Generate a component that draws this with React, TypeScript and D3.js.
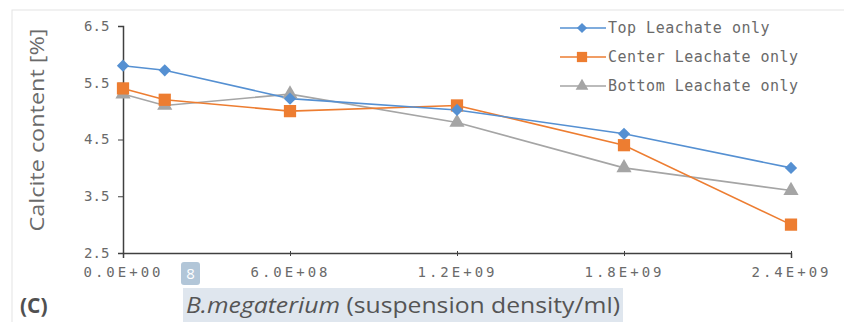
import React, { useRef, useEffect } from 'react';
import * as d3 from 'd3';

const densities = [0, 1.5e8, 6e8, 1.2e9, 1.8e9, 2.4e9];
const topLeachate = [5.8, 5.72, 5.22, 5.02, 4.6, 4.0];
const centerLeachate = [5.4, 5.2, 5.0, 5.1, 4.4, 3.0];
const bottomLeachate = [5.3, 5.1, 5.3, 4.8, 4.0, 3.6];
const seriesNames = ['Top Leachate only', 'Center Leachate only', 'Bottom Leachate only'];
const xTicks = [0, 6e8, 1.2e9, 1.8e9, 2.4e9];
const xTickLabels = ['0.0E+00', '6.0E+08', '1.2E+09', '1.8E+09', '2.4E+09'];
const yTicks = [2.5, 3.5, 4.5, 5.5, 6.5];

const colors = ['#5590d2', '#ed7d31', '#a5a5a5'];
const shapes = [d3.symbolSquare, d3.symbolSquare, d3.symbolTriangle];
const sizes = [75, 150, 100];
const rotations = [45, 0, 0];

const App = () => {
  const svgRef = useRef(null);
  const width = 844;
  const height = 322;

  useEffect(() => {
    const svg = d3.select(svgRef.current);
    svg.selectAll('*').remove();

    const x = d3.scaleLinear().domain([0, 2.4e9]).range([123, 791]);
    const y = d3.scaleLinear().domain([2.5, 6.5]).range([253, 26]);

    // outer frame
    svg.append('rect')
      .attr('x', 12).attr('y', 10).attr('width', 840).attr('height', 330)
      .attr('fill', 'white').attr('stroke', '#e3e3e3');

    const xAxis = d3.axisBottom(x).tickValues(xTicks).tickSize(5)
      .tickFormat((d, i) => xTickLabels[i]);
    const xg = svg.append('g').attr('transform', `translate(0,${y(2.5)})`).call(xAxis);
    xg.select('.domain').attr('stroke', '#404040').attr('stroke-width', 1.5);
    xg.selectAll('line').attr('stroke', '#404040').attr('transform', 'translate(0,-2)');
    xg.selectAll('text')
      .attr('fill', '#6a6a6a').attr('font-size', 14).attr('y', 14).attr('dy', '0.71em')
      .attr('font-family', 'DejaVu Sans Mono').attr('letter-spacing', '3');

    const yAxis = d3.axisLeft(y).tickValues(yTicks).tickSize(5).tickFormat(d3.format('.1f'));
    const yg = svg.append('g').attr('transform', `translate(${x(0)},0)`).call(yAxis);
    yg.select('.domain').attr('stroke', '#404040').attr('stroke-width', 1.5);
    yg.selectAll('line').attr('stroke', '#404040');
    yg.selectAll('text')
      .attr('fill', '#6a6a6a').attr('font-size', 14).attr('dx', '-0.4em')
      .attr('font-family', 'DejaVu Sans Mono');

    const all = [topLeachate, centerLeachate, bottomLeachate];
    const line = d3.line<number>().x((d, i) => x(densities[i])).y((d) => y(d));

    [2, 1, 0].forEach((s) => {
      svg.append('path')
        .attr('d', line(all[s]))
        .attr('fill', 'none').attr('stroke', colors[s]).attr('stroke-width', 1.6);
    });
    [2, 1, 0].forEach((s) => {
      svg.append('g').selectAll('path')
        .data(all[s]).enter().append('path')
        .attr('d', d3.symbol().type(shapes[s]).size(sizes[s])())
        .attr('transform', (d, i) => `translate(${x(densities[i])},${y(d)}) rotate(${rotations[s]})`)
        .attr('fill', colors[s]);
    });

    // legend
    const lg = svg.append('g').attr('transform', 'translate(560,28)');
    seriesNames.forEach((name, s) => {
      const row = lg.append('g').attr('transform', `translate(0,${s * 29})`);
      row.append('line').attr('x1', 0).attr('x2', 46).attr('y1', 0).attr('y2', 0)
        .attr('stroke', colors[s]).attr('stroke-width', 1.6);
      row.append('path').attr('d', d3.symbol().type(shapes[s]).size(sizes[s] * 0.7)())
        .attr('transform', `translate(22,0) rotate(${rotations[s]})`).attr('fill', colors[s]);
      row.append('text').attr('x', 48).attr('y', 0).attr('dy', '0.35em')
        .attr('font-family', 'DejaVu Sans Mono').attr('font-size', 15).attr('letter-spacing', '0.5')
        .attr('fill', '#6a6a6a').text(name);
    });

    // y title
    svg.append('text')
      .attr('transform', 'translate(44,130) rotate(-90)')
      .attr('text-anchor', 'middle').attr('font-family', 'Open Sans').attr('font-size', 20)
      .attr('textLength', 203).attr('lengthAdjust', 'spacingAndGlyphs')
      .attr('fill', '#6a6a6a').text('Calcite content [%]');

    // x title highlight + text
    svg.append('rect').attr('x', 183).attr('y', 288).attr('width', 440).attr('height', 34)
      .attr('fill', '#dfe6ee');
    const t = svg.append('text').attr('x', 403).attr('y', 313).attr('text-anchor', 'middle')
      .attr('font-family', 'Open Sans').attr('font-size', 21).attr('fill', '#555')
      .attr('textLength', 434).attr('lengthAdjust', 'spacingAndGlyphs');
    t.append('tspan').attr('font-style', 'italic').text('B.megaterium');
    t.append('tspan').text(' (suspension density/ml)');

    // page badge
    svg.append('rect').attr('x', 181).attr('y', 262).attr('width', 19).attr('height', 23)
      .attr('rx', 3).attr('fill', '#b2c6d8');
    svg.append('text').attr('x', 190.5).attr('y', 279).attr('text-anchor', 'middle')
      .attr('font-family', 'Open Sans').attr('font-size', 15).attr('fill', 'white').text('8');

    svg.append('text').attr('x', 20).attr('y', 313)
      .attr('font-family', 'Open Sans').attr('font-weight', 'bold').attr('font-size', 21)
      .attr('fill', '#505050').text('(C)');
  }, []);

  return (
    <svg ref={svgRef} width={width} height={height}
      style={{ position: 'absolute', left: 0, top: 0, background: 'white' }} />
  );
};

export default App;
